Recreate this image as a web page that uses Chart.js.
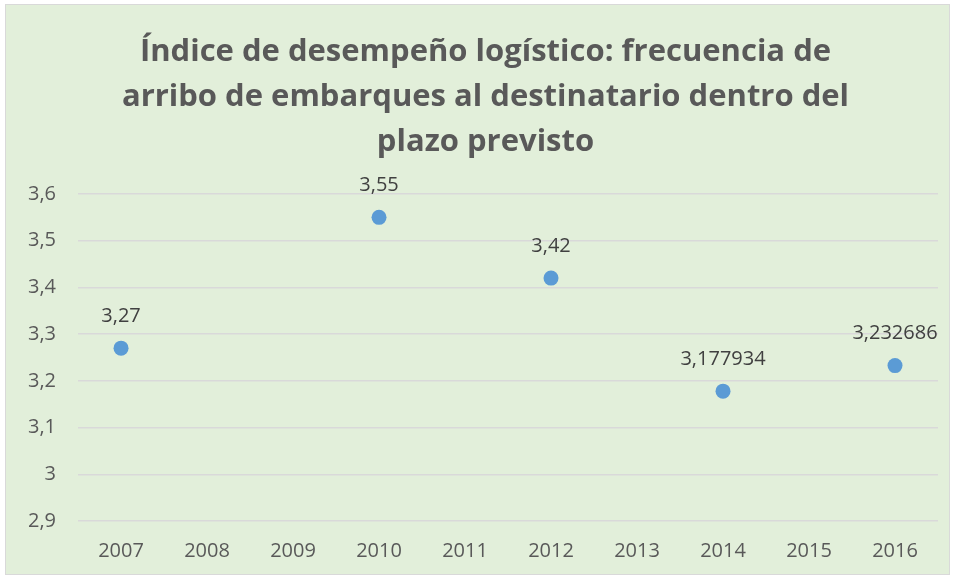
<!DOCTYPE html>
<html>
<head>
<meta charset="utf-8">
<script src="https://cdn.jsdelivr.net/npm/chart.js@4"></script>
<style>
  html, body { margin: 0; padding: 0; background: #ffffff; }
  #box { position: absolute; left: 5px; top: 4px; width: 943px; height: 569px; border: 1.5px solid #d9d9d9; background: #e2efda; }
  #title { position: absolute; left: 85.5px; top: 27px; width: 800px; text-align: center; font-family: "Open Sans", sans-serif; font-weight: bold; font-size: 31px; line-height: 45px; color: #595959; white-space: nowrap; }
  canvas { display: block; position: absolute; left: 5.5px; top: 5.5px; }
</style>
</head>
<body>
<div id="box"></div>
<canvas id="c" width="943" height="569"></canvas>
<div id="title"></div>
<script>
const titleLines = ["Índice de desempeño logístico: frecuencia de", "arribo de embarques al destinatario dentro del", "plazo previsto"];
const years = ["2007", "2008", "2009", "2010", "2011", "2012", "2013", "2014", "2015", "2016"];
const values = [3.27, null, null, 3.55, null, 3.42, null, 3.177934, null, 3.232686];
const yTicks = [2.9, 3.0, 3.1, 3.2, 3.3, 3.4, 3.5, 3.6];

const fmt = v => String(v).replace('.', ',');

const titleEl = document.getElementById('title');
titleLines.forEach(line => {
  const d = document.createElement('div');
  d.textContent = line;
  titleEl.appendChild(d);
});

const labelPlugin = {
  id: 'pointLabels',
  afterDatasetsDraw(chart) {
    const ctx = chart.ctx;
    const meta = chart.getDatasetMeta(0);
    ctx.save();
    ctx.font = '20px "Open Sans", sans-serif';
    ctx.fillStyle = '#404040';
    ctx.textAlign = 'center';
    ctx.textBaseline = 'middle';
    meta.data.forEach((pt, i) => {
      const v = values[i];
      if (v === null || v === undefined) return;
      ctx.fillText(fmt(v), pt.x, pt.y - 32);
    });
    ctx.restore();
  }
};

new Chart(document.getElementById('c'), {
  type: 'line',
  data: {
    labels: years,
    datasets: [{
      data: values,
      showLine: false,
      pointRadius: 7.5,
      pointHoverRadius: 7.5,
      pointBackgroundColor: '#5b9bd5',
      pointBorderColor: '#5b9bd5',
      pointBorderWidth: 0,
      spanGaps: false
    }]
  },
  options: {
    responsive: false,
    animation: false,
    events: [],
    layout: { padding: { left: 0, right: 11, top: 188, bottom: 2 } },
    plugins: {
      legend: { display: false },
      tooltip: { enabled: false },
      title: { display: false }
    },
    scales: {
      x: {
        type: 'category',
        offset: true,
        grid: { display: false },
        border: { display: false },
        ticks: { color: '#595959', font: { family: '"Open Sans", sans-serif', size: 20 }, padding: 10 }
      },
      y: {
        min: 2.9,
        max: 3.6,
        afterBuildTicks(scale) { scale.ticks = yTicks.map(v => ({ value: v })); },
        grid: { color: '#d9d9d9', lineWidth: 1.5, drawTicks: false },
        border: { display: false },
        ticks: {
          color: '#595959',
          font: { family: '"Open Sans", sans-serif', size: 20 },
          padding: 22,
          callback: v => fmt(Math.round(v * 10) / 10)
        }
      }
    }
  },
  plugins: [labelPlugin]
});
</script>
</body>
</html>
